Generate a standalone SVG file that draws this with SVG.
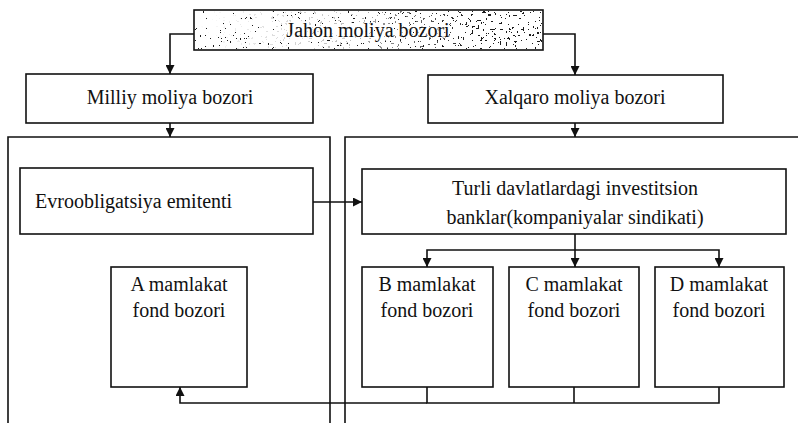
<svg xmlns="http://www.w3.org/2000/svg" width="798" height="423" viewBox="0 0 798 423">
<style>
.box{fill:#fff;stroke:#111;stroke-width:1.6}
.frame{fill:none;stroke:#111;stroke-width:1.6}
.ln{fill:none;stroke:#111;stroke-width:1.6}
text{font-family:"Liberation Serif","Times New Roman",serif;font-size:20px;fill:#111}
.c{text-anchor:middle}
</style>
<defs>
<marker id="ah" viewBox="0 0 10 10" refX="10" refY="5" markerWidth="9" markerHeight="9" markerUnits="userSpaceOnUse" orient="auto">
<path d="M0,0 L10,5 L0,10 z" fill="#111"/>
</marker>
<filter id="speck1" x="0" y="0" width="1" height="1">
<feTurbulence type="fractalNoise" baseFrequency="0.4" numOctaves="2" seed="7" result="n"/>
<feColorMatrix in="n" type="matrix" values="0 0 0 0 0  0 0 0 0 0  0 0 0 0 0  5 0 0 0 -3.15" result="a"/>
<feComponentTransfer in="a" result="t"><feFuncA type="discrete" tableValues="0 1"/></feComponentTransfer>
<feFlood flood-color="#1a1a1a" result="f"/>
<feComposite in="f" in2="t" operator="in" result="dots"/>
<feComposite in="dots" in2="SourceGraphic" operator="in"/>
</filter>
<filter id="speck2" x="0" y="0" width="1" height="1">
<feTurbulence type="fractalNoise" baseFrequency="0.35" numOctaves="2" seed="13" result="n"/>
<feColorMatrix in="n" type="matrix" values="0 0 0 0 0  0 0 0 0 0  0 0 0 0 0  5 0 0 0 -2.95" result="a"/>
<feComponentTransfer in="a" result="t"><feFuncA type="discrete" tableValues="0 1"/></feComponentTransfer>
<feFlood flood-color="#1a1a1a" result="f"/>
<feComposite in="f" in2="t" operator="in" result="dots"/>
<feComposite in="dots" in2="SourceGraphic" operator="in"/>
</filter>
<linearGradient id="fadeR" x1="0" y1="0" x2="1" y2="0">
<stop offset="0" stop-color="#fff" stop-opacity="0"/>
<stop offset="0.45" stop-color="#fff" stop-opacity="0.3"/>
<stop offset="0.8" stop-color="#fff" stop-opacity="1"/>
<stop offset="1" stop-color="#fff" stop-opacity="1"/>
</linearGradient>
<mask id="rightMask" maskContentUnits="userSpaceOnUse">
<rect x="195" y="11" width="347" height="38" fill="url(#fadeR)"/>
</mask>
</defs>

<g id="containers">
<path class="frame" d="M8,423 V137 H330 V423"/>
<path class="frame" d="M345,423 V137 H798"/>
</g>

<g id="jahon">
<rect class="box" x="194" y="10" width="349" height="40"/>
<rect x="195" y="11" width="347" height="38" fill="#000" filter="url(#speck1)"/>
<rect x="195" y="11" width="347" height="38" fill="#000" filter="url(#speck2)" mask="url(#rightMask)"/>
<text class="c" x="368" y="37" stroke="#fff" stroke-width="2.5" stroke-opacity="0.7" paint-order="stroke">Jahon moliya bozori</text>
</g>

<g id="milliy">
<rect class="box" x="26" y="74" width="287" height="49"/>
<text class="c" x="170" y="104">Milliy moliya bozori</text>
</g>

<g id="xalqaro">
<rect class="box" x="428" y="75" width="295" height="48"/>
<text class="c" x="575" y="104">Xalqaro moliya bozori</text>
</g>

<g id="evro">
<rect class="box" x="20" y="168" width="293" height="66"/>
<text x="35" y="208">Evroobligatsiya emitenti</text>
</g>

<g id="turli">
<rect class="box" x="362" y="169" width="424" height="65"/>
<text class="c" x="575" y="195">Turli davlatlardagi investitsion</text>
<text class="c" x="575" y="224">banklar(kompaniyalar sindikati)</text>
</g>

<g id="a-fond">
<rect class="box" x="111" y="267" width="136" height="120"/>
<text class="c" x="179" y="291">A mamlakat</text>
<text class="c" x="179" y="317">fond bozori</text>
</g>

<g id="b-fond">
<rect class="box" x="362" y="267" width="131" height="120"/>
<text class="c" x="427" y="291">B mamlakat</text>
<text class="c" x="427" y="317">fond bozori</text>
</g>

<g id="c-fond">
<rect class="box" x="509" y="267" width="130" height="120"/>
<text class="c" x="574" y="291">C mamlakat</text>
<text class="c" x="574" y="317">fond bozori</text>
</g>

<g id="d-fond">
<rect class="box" x="655" y="267" width="129" height="120"/>
<text class="c" x="719" y="291">D mamlakat</text>
<text class="c" x="719" y="317">fond bozori</text>
</g>

<g id="connectors">
<path class="ln" d="M194,34 H170 V74" marker-end="url(#ah)"/>
<path class="ln" d="M543,34 H575 V75" marker-end="url(#ah)"/>
<path class="ln" d="M170,123 V137" marker-end="url(#ah)"/>
<path class="ln" d="M575,123 V137" marker-end="url(#ah)"/>
<path class="ln" d="M313,202 H362" marker-end="url(#ah)"/>
<path class="ln" d="M575,234 V267" marker-end="url(#ah)"/>
<path class="ln" d="M575,250 H427 V267" marker-end="url(#ah)"/>
<path class="ln" d="M575,250 H719 V267" marker-end="url(#ah)"/>
<path class="ln" d="M427,387 V403 H719 V387"/>
<path class="ln" d="M574,387 V403"/>
<path class="ln" d="M427,403 H180 V387" marker-end="url(#ah)"/>
</g>
</svg>
